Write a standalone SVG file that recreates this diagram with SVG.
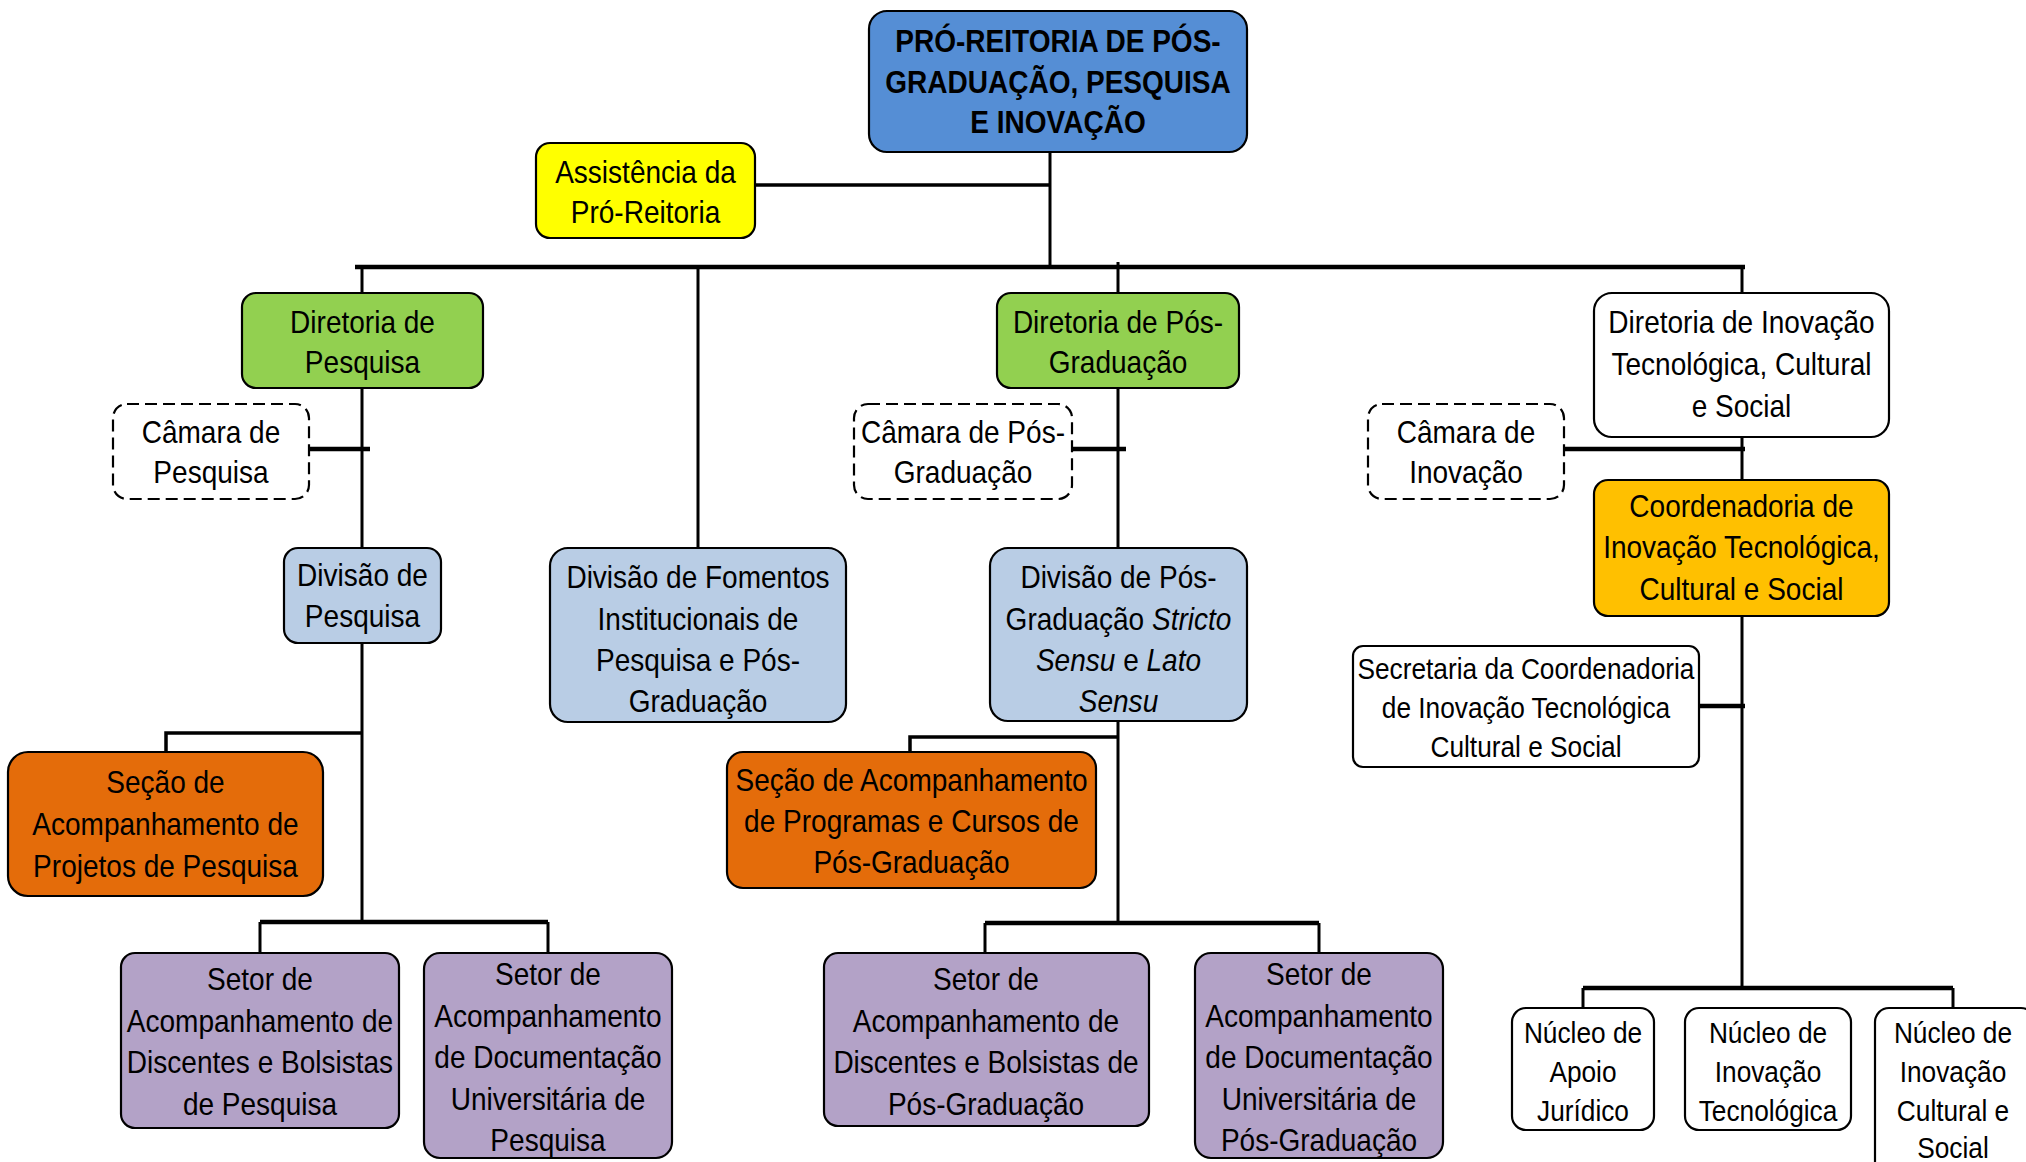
<svg xmlns="http://www.w3.org/2000/svg" width="2026" height="1162" viewBox="0 0 2026 1162">
<style>
.box{stroke:#000;stroke-width:2.2}
.dash{fill:#fff;stroke:#000;stroke-width:2.2;stroke-dasharray:12 6}
.t{font-family:"Liberation Sans",Arial,sans-serif;font-size:31.5px;fill:#000;text-anchor:middle}
.s{font-size:29.5px}
.b{font-weight:bold}
.i{font-style:italic}
.c{stroke:#000;fill:none}
.v{stroke-width:3}
.h{stroke-width:4.5}
</style>
<rect width="2026" height="1162" fill="#fff"/>
<g id="connectors">
<line class="c v" x1="1050" y1="150" x2="1050" y2="267"/>
<line class="c h" x1="754" y1="185" x2="1050" y2="185" style="stroke-width:3.5"/>
<line class="c h" x1="355" y1="267" x2="1745" y2="267"/>
<line class="c v" x1="362" y1="267" x2="362" y2="293"/>
<line class="c v" x1="698" y1="267" x2="698" y2="548"/>
<line class="c v" x1="1118" y1="262" x2="1118" y2="293"/>
<line class="c v" x1="1742" y1="267" x2="1742" y2="293"/>
<line class="c v" x1="362" y1="388" x2="362" y2="922"/>
<line class="c h" x1="309" y1="449" x2="370" y2="449"/>
<polyline class="c" style="stroke-width:3.5" points="362,733 166,733 166,752"/>
<line class="c h" x1="260" y1="922" x2="548" y2="922"/>
<line class="c v" x1="260" y1="922" x2="260" y2="953"/>
<line class="c v" x1="548" y1="922" x2="548" y2="953"/>
<line class="c v" x1="1118" y1="388" x2="1118" y2="923"/>
<line class="c h" x1="1072" y1="449" x2="1126" y2="449"/>
<polyline class="c" style="stroke-width:3.5" points="1118,737 910,737 910,752"/>
<line class="c h" x1="985" y1="923" x2="1319" y2="923"/>
<line class="c v" x1="985" y1="923" x2="985" y2="953"/>
<line class="c v" x1="1319" y1="923" x2="1319" y2="953"/>
<line class="c v" x1="1742" y1="437" x2="1742" y2="988"/>
<line class="c h" x1="1564" y1="449" x2="1745" y2="449"/>
<line class="c h" x1="1699" y1="706" x2="1745" y2="706"/>
<line class="c h" x1="1583" y1="988" x2="1953" y2="988"/>
<line class="c v" x1="1583" y1="988" x2="1583" y2="1008"/>
<line class="c v" x1="1953" y1="988" x2="1953" y2="1008"/>
</g>
<g id="root">
<rect class="box" x="869" y="11" width="378" height="141" rx="18" fill="#558ED5"/>
<g transform="matrix(0.89 0 0 1 116.38 0)"><text class="t b" x="1058" y="52">PRÓ-REITORIA DE PÓS-</text><text class="t b" x="1058" y="93">GRADUAÇÃO, PESQUISA</text><text class="t b" x="1058" y="133">E INOVAÇÃO</text></g>
</g>
<g id="assistencia">
<rect class="box" x="536" y="143" width="219" height="95" rx="14" fill="#FFFF00"/>
<g transform="matrix(0.89 0 0 1 71.01 0)"><text class="t" x="645.5" y="183">Assistência da</text><text class="t" x="645.5" y="223">Pró-Reitoria</text></g>
</g>
<g id="dir-pesquisa">
<rect class="box" x="242" y="293" width="241" height="95" rx="14" fill="#92D050"/>
<g transform="matrix(0.89 0 0 1 39.88 0)"><text class="t" x="362.5" y="333">Diretoria de</text><text class="t" x="362.5" y="373">Pesquisa</text></g>
</g>
<g id="div-fomentos">
<rect class="box" x="550" y="548" width="296" height="174" rx="18" fill="#B9CDE5"/>
<g transform="matrix(0.89 0 0 1 76.78 0)"><text class="t" x="698" y="588">Divisão de Fomentos</text><text class="t" x="698" y="630">Institucionais de</text><text class="t" x="698" y="671">Pesquisa e Pós-</text><text class="t" x="698" y="712">Graduação</text></g>
</g>
<g id="dir-pos">
<rect class="box" x="997" y="293" width="242" height="95" rx="14" fill="#92D050"/>
<g transform="matrix(0.89 0 0 1 122.98 0)"><text class="t" x="1118" y="333">Diretoria de Pós-</text><text class="t" x="1118" y="373">Graduação</text></g>
</g>
<g id="dir-inovacao">
<rect class="box" x="1594" y="293" width="295" height="144" rx="18" fill="#fff"/>
<g transform="matrix(0.89 0 0 1 191.57 0)"><text class="t" x="1741.5" y="333">Diretoria de Inovação</text><text class="t" x="1741.5" y="375">Tecnológica, Cultural</text><text class="t" x="1741.5" y="417">e Social</text></g>
</g>
<g id="camara-pesquisa">
<rect class="dash" x="113" y="404" width="196" height="95" rx="14"/>
<g transform="matrix(0.89 0 0 1 23.21 0)"><text class="t" x="211" y="443">Câmara de</text><text class="t" x="211" y="483">Pesquisa</text></g>
</g>
<g id="div-pesquisa">
<rect class="box" x="284" y="548" width="157" height="95" rx="14" fill="#B9CDE5"/>
<g transform="matrix(0.89 0 0 1 39.88 0)"><text class="t" x="362.5" y="586">Divisão de</text><text class="t" x="362.5" y="627">Pesquisa</text></g>
</g>
<g id="secao-pesquisa">
<rect class="box" x="8" y="752" width="315" height="144" rx="20" fill="#E46C0A"/>
<g transform="matrix(0.89 0 0 1 18.21 0)"><text class="t" x="165.5" y="793">Seção de</text><text class="t" x="165.5" y="835">Acompanhamento de</text><text class="t" x="165.5" y="877">Projetos de Pesquisa</text></g>
</g>
<g id="setor-disc-pesquisa">
<rect class="box" x="121" y="953" width="278" height="175" rx="14" fill="#B3A2C7"/>
<g transform="matrix(0.89 0 0 1 28.6 0)"><text class="t" x="260" y="990">Setor de</text><text class="t" x="260" y="1032">Acompanhamento de</text><text class="t" x="260" y="1073">Discentes e Bolsistas</text><text class="t" x="260" y="1115">de Pesquisa</text></g>
</g>
<g id="setor-doc-pesquisa">
<rect class="box" x="424" y="953" width="248" height="205" rx="16" fill="#B3A2C7"/>
<g transform="matrix(0.89 0 0 1 60.28 0)"><text class="t" x="548" y="985">Setor de</text><text class="t" x="548" y="1027">Acompanhamento</text><text class="t" x="548" y="1068">de Documentação</text><text class="t" x="548" y="1110">Universitária de</text><text class="t" x="548" y="1151">Pesquisa</text></g>
</g>
<g id="camara-pos">
<rect class="dash" x="854" y="404" width="218" height="95" rx="14"/>
<g transform="matrix(0.89 0 0 1 105.93 0)"><text class="t" x="963" y="443">Câmara de Pós-</text><text class="t" x="963" y="483">Graduação</text></g>
</g>
<g id="div-pos">
<rect class="box" x="990" y="548" width="257" height="173" rx="18" fill="#B9CDE5"/>
<g transform="matrix(0.89 0 0 1 123.04 0)"><text class="t" x="1118.5" y="588">Divisão de Pós-</text><text class="t" x="1118.5" y="630">Graduação <tspan class="i">Stricto</tspan></text><text class="t" x="1118.5" y="671"><tspan class="i">Sensu</tspan> e <tspan class="i">Lato</tspan></text><text class="t i" x="1118.5" y="712">Sensu</text></g>
</g>
<g id="secao-pos">
<rect class="box" x="727" y="752" width="369" height="136" rx="16" fill="#E46C0A"/>
<g transform="matrix(0.89 0 0 1 100.27 0)"><text class="t" x="911.5" y="791">Seção de Acompanhamento</text><text class="t" x="911.5" y="832">de Programas e Cursos de</text><text class="t" x="911.5" y="873">Pós-Graduação</text></g>
</g>
<g id="setor-disc-pos">
<rect class="box" x="824" y="953" width="325" height="173" rx="14" fill="#B3A2C7"/>
<g transform="matrix(0.89 0 0 1 108.46 0)"><text class="t" x="986" y="990">Setor de</text><text class="t" x="986" y="1032">Acompanhamento de</text><text class="t" x="986" y="1073">Discentes e Bolsistas de</text><text class="t" x="986" y="1115">Pós-Graduação</text></g>
</g>
<g id="setor-doc-pos">
<rect class="box" x="1195" y="953" width="248" height="205" rx="16" fill="#B3A2C7"/>
<g transform="matrix(0.89 0 0 1 145.09 0)"><text class="t" x="1319" y="985">Setor de</text><text class="t" x="1319" y="1027">Acompanhamento</text><text class="t" x="1319" y="1068">de Documentação</text><text class="t" x="1319" y="1110">Universitária de</text><text class="t" x="1319" y="1151">Pós-Graduação</text></g>
</g>
<g id="camara-inovacao">
<rect class="dash" x="1368" y="404" width="196" height="95" rx="14"/>
<g transform="matrix(0.89 0 0 1 161.26 0)"><text class="t" x="1466" y="443">Câmara de</text><text class="t" x="1466" y="483">Inovação</text></g>
</g>
<g id="coordenadoria">
<rect class="box" x="1594" y="480" width="295" height="136" rx="14" fill="#FFC000"/>
<g transform="matrix(0.89 0 0 1 191.57 0)"><text class="t" x="1741.5" y="517">Coordenadoria de</text><text class="t" x="1741.5" y="558">Inovação Tecnológica,</text><text class="t" x="1741.5" y="600">Cultural e Social</text></g>
</g>
<g id="secretaria">
<rect class="box" x="1353" y="646" width="346" height="121" rx="10" fill="#fff"/>
<g transform="matrix(0.89 0 0 1 167.86 0)"><text class="t s" x="1526" y="679">Secretaria da Coordenadoria</text><text class="t s" x="1526" y="718">de Inovação Tecnológica</text><text class="t s" x="1526" y="757">Cultural e Social</text></g>
</g>
<g id="nucleo-apoio">
<rect class="box" x="1512" y="1008" width="142" height="122" rx="14" fill="#fff"/>
<g transform="matrix(0.89 0 0 1 174.13 0)"><text class="t s" x="1583" y="1043">Núcleo de</text><text class="t s" x="1583" y="1082">Apoio</text><text class="t s" x="1583" y="1121">Jurídico</text></g>
</g>
<g id="nucleo-tec">
<rect class="box" x="1685" y="1008" width="166" height="122" rx="14" fill="#fff"/>
<g transform="matrix(0.89 0 0 1 194.48 0)"><text class="t s" x="1768" y="1043">Núcleo de</text><text class="t s" x="1768" y="1082">Inovação</text><text class="t s" x="1768" y="1121">Tecnológica</text></g>
</g>
<g id="nucleo-cultural">
<rect class="box" x="1875" y="1008" width="160" height="170" rx="14" fill="#fff"/>
<g transform="matrix(0.89 0 0 1 214.83 0)"><text class="t s" x="1953" y="1043">Núcleo de</text><text class="t s" x="1953" y="1082">Inovação</text><text class="t s" x="1953" y="1121">Cultural e</text><text class="t s" x="1953" y="1158">Social</text></g>
</g>
</svg>
